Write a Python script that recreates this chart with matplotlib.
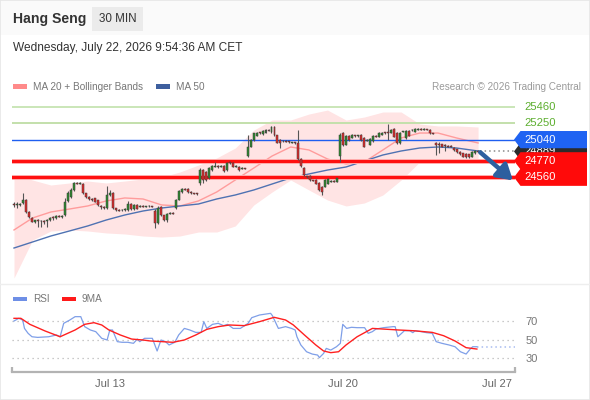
import matplotlib
matplotlib.use("Agg")
import matplotlib.pyplot as plt
from matplotlib.patches import Polygon, Rectangle
from matplotlib.transforms import IdentityTransform
from matplotlib.lines import Line2D

plt.rcParams['font.family'] = ['Liberation Sans', 'DejaVu Sans']

# ---------------- data ----------------
opens = [24210, 24205, 24212, 24232, 24275, 24115, 24045, 23995, 24010, 24005, 24000, 24000,
         24020, 24045, 24040, 24070, 24060, 24080, 24260, 24310, 24398, 24487,
         24480, 24474, 24360, 24310, 24285, 24290, 24270, 24200, 24185, 24168,
         24340, 24360, 24165, 24143, 24140, 24145, 24143, 24220, 24150, 24210,
         24190, 24195, 24190, 24195, 24195, 24130, 23977, 24181, 24079, 24015, 24100,
         24105, 24168, 24270, 24375, 24410, 24410, 24372, 24360, 24350, 24490,
         24652, 24627, 24551, 24652, 24700, 24700, 24690, 24704, 24652, 24745,
         24742, 24691, 24691, 24670, 24675, 24831, 24946, 25035, 25086, 25128,
         25112, 25124, 25160, 25137, 25205, 25099, 25035, 25020, 25025, 25015, 25005,
         25005, 24995, 24790, 24678, 24570, 24576, 24525, 24525, 24490, 24440,
         24440, 24480, 24505, 24510, 24505, 24831, 25124, 24971, 25086, 25061,
         25090, 25086, 25099, 25061, 25030, 24971, 25022, 25086, 25078, 25099,
         25128, 25135, 25128, 25175, 25124, 24997, 25140, 25055, 25155, 25160,
         25140, 25170, 25175, 25170, 25175, 25162, 25120, 25000, 24985, 24984,
         24970, 24960, 24955, 24930, 24915, 24885, 24865, 24857, 24855, 24822,
         24869, 24895]
highs = [24240, 24250, 24235, 24360, 24285, 24125, 24055, 24020, 24030, 24020, 24015, 24030,
         24050, 24060, 24075, 24085, 24075, 24290, 24380, 24420, 24500, 24500,
         24495, 24485, 24365, 24315, 24295, 24300, 24275, 24210, 24190, 24449,
         24395, 24370, 24170, 24155, 24160, 24165, 24260, 24230, 24225, 24220,
         24205, 24205, 24200, 24205, 24200, 24150, 24200, 24190, 24085, 24100, 24115,
         24115, 24280, 24400, 24425, 24420, 24420, 24380, 24365, 24355, 24680,
         24665, 24640, 24690, 24715, 24760, 24710, 24710, 24715, 24760, 24755,
         24750, 24710, 24700, 24685, 24680, 25100, 25050, 25130, 25140, 25135,
         25160, 25170, 25170, 25215, 25215, 25105, 25045, 25035, 25030, 25020, 25015,
         25015, 25162, 24800, 24690, 24580, 24585, 24530, 24535, 24495, 24450,
         24535, 24545, 24520, 24520, 24555, 25124, 25135, 25095, 25095, 25110,
         25100, 25100, 25110, 25070, 25045, 25060, 25095, 25095, 25135, 25140,
         25135, 25239, 25175, 25185, 25135, 25135, 25155, 25165, 25165, 25175,
         25185, 25185, 25185, 25185, 25180, 25170, 25125, 25010, 25015, 24990,
         24980, 24970, 24965, 24940, 24925, 24895, 24875, 24865, 24860, 24895,
         24910, 24905]
lows = [24180, 24170, 24190, 24220, 24100, 24040, 23985, 23980, 23930, 23920, 23960, 23930,
        24000, 24020, 24030, 24050, 24045, 24060, 24250, 24300, 24390, 24470,
        24470, 24350, 24300, 24275, 24260, 24240, 24200, 24160, 24160, 24160,
        24320, 24160, 24130, 24125, 24130, 24135, 24130, 24140, 24145, 24150,
        24180, 24180, 24185, 24185, 24185, 23913, 23970, 24070, 24005, 23995, 24095,
        24095, 24160, 24265, 24365, 24395, 24365, 24350, 24345, 24340, 24460,
        24490, 24510, 24540, 24645, 24690, 24680, 24685, 24630, 24640, 24730,
        24685, 24685, 24645, 24660, 24660, 24820, 24940, 25020, 25080, 25115,
        25105, 25120, 25150, 25130, 25090, 24995, 24930, 25010, 25005, 24995, 24995,
        24990, 24780, 24690, 24580, 24550, 24515, 24510, 24470, 24390, 24334,
        24430, 24475, 24495, 24495, 24500, 24760, 24960, 24965, 25025, 25055,
        25078, 25078, 25025, 24940, 25020, 24965, 25015, 25070, 25070, 25095,
        25115, 25035, 25120, 25070, 24985, 24990, 25135, 25050, 25080, 25150,
        25135, 25160, 25160, 25165, 25160, 25110, 25110, 24844, 24865, 24940,
        24890, 24945, 24940, 24900, 24875, 24850, 24815, 24805, 24805, 24815,
        24860, 24880]
closes = [24205, 24215, 24218, 24275, 24115, 24050, 23995, 24010, 24005, 24000, 23995, 24020,
          24045, 24040, 24070, 24060, 24065, 24240, 24355, 24398, 24487, 24480,
          24485, 24360, 24310, 24285, 24270, 24245, 24207, 24185, 24170, 24334,
          24355, 24168, 24143, 24140, 24145, 24155, 24220, 24150, 24210, 24160,
          24195, 24190, 24195, 24192, 24190, 23975, 24168, 24079, 24015, 24092, 24105,
          24100, 24270, 24390, 24410, 24405, 24372, 24360, 24355, 24347, 24652,
          24525, 24525, 24678, 24704, 24705, 24690, 24700, 24640, 24745, 24740,
          24691, 24700, 24652, 24675, 24670, 24950, 25035, 25124, 25128, 25124,
          25150, 25162, 25155, 25205, 25099, 25000, 24997, 25025, 25015, 25005, 25008,
          25000, 24790, 24704, 24589, 24565, 24525, 24520, 24480, 24398, 24375,
          24525, 24535, 24510, 24505, 24547, 25099, 24971, 25086, 25035, 25099,
          25086, 25090, 25035, 24950, 25035, 25048, 25086, 25080, 25124, 25128,
          25125, 25130, 25162, 25078, 24993, 25124, 25145, 25155, 25086, 25165,
          25175, 25175, 25170, 25175, 25170, 25120, 25115, 24971, 24980, 24950,
          24965, 24955, 24950, 24908, 24885, 24857, 24822, 24815, 24818, 24885,
          24900, 24889]

ma_idx = [0, 6.2, 12.3, 18.5, 24.6, 30.8, 37.0, 43.1, 49.3, 55.4, 61.6, 67.7, 73.9,
          80.1, 86.2, 92.4, 98.5, 104.7, 110.9, 117.0, 123.2, 129.3, 135.5, 141.6,
          147.8, 155.0]
ma20 = [23888, 24041, 24117, 24155, 24194, 24258, 24296, 24283, 24207, 24194,
        24258, 24372, 24525, 24678, 24831, 24946, 24908, 24793, 24729, 24755,
        24908, 25061, 25124, 25124, 25061, 24997]
bb_upper = [24589, 24525, 24461, 24487, 24512, 24487, 24512, 24538, 24563, 24627,
            24716, 24806, 24933, 25162, 25290, 25290, 25366, 25417, 25290, 25328,
            25392, 25392, 25239, 25214, 25214, 25201]
bb_lower = [23276, 23760, 23875, 23888, 23875, 23850, 23837, 23811, 23798, 23811,
            23862, 23862, 23939, 24207, 24372, 24525, 24398, 24270, 24194, 24232,
            24334, 24525, 24755, 24780, 24780, 24780]
ma50 = [23658, 23735, 23811, 23875, 23939, 24015, 24079, 24130, 24168, 24194,
        24219, 24283, 24334, 24398, 24474, 24551, 24602, 24652, 24691, 24767,
        24844, 24895, 24933, 24946, 24933, 24895]

rsi_idx = [0, 1.6, 2.9, 3.5, 4.7, 6.0, 7.9, 11.6, 14.2, 15.4, 16.6, 18.6, 20.4,
           22.3, 23.6, 25.5, 27.3, 29.3, 31.1, 32.0, 32.9, 34.5, 36.1, 38.0, 39.9,
           41.2, 42.0, 43.6, 46.2, 47.8, 49.1, 50.6, 51.8, 53.7, 55.0, 56.9, 58.7,
           60.7, 62.5, 63.4, 64.4, 66.3, 68.2, 70.0, 71.3, 73.2, 75.6, 78.2, 79.4,
           82.0, 85.7, 86.3, 88.3, 90.7, 92.7, 93.9, 94.5, 95.8, 97.7, 99.6, 101.4,
           102.0, 103.4, 104.3, 105.8, 107.7, 109.0, 109.8, 111.1, 112.7, 114.6,
           117.1, 118.3, 119.7, 120.9, 123.4, 126.6, 127.3, 128.2, 130.4, 132.2,
           133.2, 134.0, 136.0, 137.8, 139.7, 141.0, 142.9, 145.3, 147.3, 149.1,
           151.0, 152.3, 153.2, 154.6]
rsi_val = [70, 72.9, 71, 62, 56.7, 53, 52.3, 53, 54.9, 53, 67.5, 71, 74.7,
           74.7, 63.9, 60.3, 58.5, 51.3, 49.5, 60.3, 60.3, 47.7, 47, 47, 45.9,
           50.5, 47.7, 51.3, 51.3, 37.6, 49.5, 47.7, 44.1, 47, 54.9, 62, 60.3,
           57.7, 57.7, 69.3, 62, 66.4, 67.5, 65, 66.4, 62, 62, 67.5, 73.6,
           76.5, 78.3, 75.8, 62, 63.9, 62, 60.3, 53, 44.1, 36.8, 34.3, 33.2,
           30.4, 35, 40.4, 38.6, 42.2, 45.9, 66.4, 62, 63.2, 62.8,
           62.8, 56.7, 58.5, 61.3, 62.8, 63.9, 63.9, 53, 59.5, 59.5,
           57.4, 59.5, 58.5, 57.4, 56.7, 47.7, 45.9, 44.1, 42.2, 36.8,
           34.3, 39.4, 42.2, 42.2]
rsi_ma_idx = [0, 2.3, 5.3, 10.4, 15.4, 20.4, 23.6, 26.7, 29.3, 31.7, 35.5, 39.3,
              43.0, 45.6, 49.4, 53.1, 56.9, 60.7, 64.4, 68.2, 72.0, 76.9, 82.0,
              86.9, 90.7, 93.3, 97.0, 100.8, 103.4, 105.8, 108.4, 110.9, 114.6,
              119.7, 123.4, 128.4, 133.4, 139.7, 143.5, 147.3, 151.0, 154.6]
rsi_ma_val = [72.9, 72.9, 66.4, 59.2, 53, 60.3, 66.4, 68.2, 65.7, 60.3, 54.9, 50.5,
              49.5, 48.4, 47.7, 47, 49.5, 54.9, 61, 63.9, 65.7, 65, 69.3,
              74, 71.1, 65.7, 54.9, 44.1, 37.6, 35.8, 36.8, 44.1, 53,
              62, 61.3, 60.3, 59.5, 57.7, 54.1, 48.4, 41.2, 39.7]

levels = [25460, 25250, 25040, 24770, 24560]
level_labels = ['25460', '25250', '25040', '24770', '24560']
last_price = 24889
xtick_pos = [32.1, 109.9, 161.3]
xtick_labels = ['Jul 13', 'Jul 20', 'Jul 27']

# ---------------- figure ----------------
W, H = 590, 400
XMIN, XMAX = -0.67, 167.33
fig = plt.figure(figsize=(W / 100, H / 100), dpi=100)
fig.patch.set_facecolor('white')


def fx(x):
    return x / W


def fy(y):
    return 1 - y / H


# header
fig.add_artist(Rectangle((0, fy(35)), 1, 35 / H, transform=fig.transFigure,
                         fc='#fafafa', ec='none', zorder=0))
fig.add_artist(Rectangle((fx(92), fy(31)), 51 / W, 24 / H, transform=fig.transFigure,
                         fc='#ebebeb', ec='none', zorder=1))
fig.text(fx(13), fy(19), 'Hang Seng', fontsize=10.1, fontweight='bold',
         color='#333333', va='center', ha='left')
fig.text(fx(117.5), fy(19), '30 MIN', fontsize=8.4, color='#333333',
         va='center', ha='center', zorder=2)
fig.text(fx(13), fy(48), 'Wednesday, July 22, 2026 9:54:36 AM CET', fontsize=8.6,
         color='#333333', va='center', ha='left')

# legend row
fig.add_artist(Rectangle((fx(13), fy(89)), 14 / W, 5 / H, transform=fig.transFigure,
                         fc='#ff8a8a', ec='none'))
fig.text(fx(33), fy(86.5), 'MA 20 + Bollinger Bands', fontsize=7.2, color='#777777',
         va='center', ha='left')
fig.add_artist(Rectangle((fx(156), fy(89)), 14 / W, 5 / H, transform=fig.transFigure,
                         fc='#3e5f9e', ec='none'))
fig.text(fx(176), fy(86.5), 'MA 50', fontsize=7.2, color='#777777',
         va='center', ha='left')
fig.text(fx(581), fy(86.5), 'Research \u00a9 2026 Trading Central', fontsize=7.2,
         color='#9a9a9a', va='center', ha='right')

# ---------------- price panel ----------------
ax = fig.add_axes([fx(12), fy(283), (515 - 12) / W, (283 - 92) / H])
ax.set_xlim(XMIN, XMAX)
ax.set_ylim(23212, 25647)
ax.axis('off')

ax.fill_between(ma_idx, bb_lower, bb_upper, color='#ffe4e4', lw=0, zorder=1)
ax.plot(ma_idx, ma20, color='#ff9c9c', lw=1.0, zorder=2)
ax.plot(ma_idx, ma50, color='#4f72b2', lw=1.0, zorder=2)

level_styles = [
    dict(color='#bcdfa4', lw=1.1),
    dict(color='#c3e0ab', lw=1.4),
    dict(color='#1f5ff0', lw=1.0),
    dict(color='#ff1010', lw=2.2),
    dict(color='#ff1010', lw=2.2),
]
for i, (lvl, st) in enumerate(zip(levels, level_styles)):
    if i >= 3:
        ax.axhline(lvl, color='#ffb0b0', lw=3.6, zorder=3)
    ax.axhline(lvl, zorder=3, **st)

n = len(closes)
idx = list(range(n))
ax.vlines(idx, lows, highs, color='#555555', lw=0.8, zorder=4)
bottoms, heights, colors = [], [], []
for o, c in zip(opens, closes):
    lo, hi = min(o, c), max(o, c)
    h = max(hi - lo, 12)
    bottoms.append((lo + hi) / 2 - h / 2)
    heights.append(h)
    colors.append('#2f8a2f' if c >= o else '#e02a2a')
ax.bar(idx, heights, bottom=bottoms, width=0.66, color=colors,
       edgecolor='#3a3a3a', linewidth=0.35, zorder=5)

# last price dotted extension
ax.plot([n - 1 + 0.6, XMAX], [last_price, last_price], color='#8a8a8a', lw=1.1,
        ls=(0, (1, 2)), zorder=3, clip_on=False)

# forecast arrow toward the second support
ax.annotate('', xy=(XMAX - 0.7, levels[4] - 40), xytext=(n - 1 + 0.7, last_price - 10),
            arrowprops=dict(arrowstyle='-|>,head_length=0.9,head_width=0.55',
                            color='#2d5f9f', lw=3.2, shrinkA=0, shrinkB=0),
            annotation_clip=False, zorder=6)


def level_y(v):
    return ax.transData.transform((0, v))[1]


for i in range(2):
    fig.text(fx(524), level_y(levels[i]) / H, level_labels[i], fontsize=8.1,
             color='#5cae2e', va='center', ha='left')


def tag(v, text, fc, z):
    yd = level_y(v)
    hh = 8.6
    pts = [(514, yd), (520.5, yd + hh), (587, yd + hh), (587, yd - hh), (520.5, yd - hh)]
    fig.add_artist(Polygon(pts, closed=True, fc=fc, ec='none',
                           transform=IdentityTransform(), zorder=z))
    fig.text(fx(524), yd / H, text, fontsize=8.1, color='white', va='center',
             ha='left', zorder=z + 0.5)


tag(last_price, str(last_price), '#2b2b2b', 5)
tag(levels[2], level_labels[2], '#1f63f2', 6)
tag(levels[3], level_labels[3], '#ff0a0a', 6)
tag(levels[4], level_labels[4], '#ff0a0a', 7)

# separator
fig.add_artist(Line2D([0, 1], [fy(283.5), fy(283.5)], transform=fig.transFigure,
                      color='#eeeeee', lw=1))

# ---------------- RSI panel ----------------
fig.add_artist(Rectangle((fx(13), fy(301)), 14 / W, 4 / H, transform=fig.transFigure,
                         fc='#6e8fe6', ec='none'))
fig.text(fx(33), fy(299), 'RSI', fontsize=7.2, color='#777777', va='center', ha='left')
fig.add_artist(Rectangle((fx(62), fy(301)), 14 / W, 4 / H, transform=fig.transFigure,
                         fc='#ff1a1a', ec='none'))
fig.text(fx(82), fy(299), '9MA', fontsize=7.2, color='#777777', va='center', ha='left')

ax2 = fig.add_axes([fx(12), fy(372), (515 - 12) / W, (372 - 305) / H])
ax2.set_xlim(XMIN, XMAX)
ax2.set_ylim(14.9, 87.3)
ax2.set_facecolor('none')
for s in ['top', 'left', 'right']:
    ax2.spines[s].set_visible(False)
ax2.spines['bottom'].set_color('#b3b3b3')
ax2.spines['bottom'].set_linewidth(1.6)
for v in [30, 50, 70]:
    ax2.axhline(v, color='#b8b8b8', lw=0.9, ls=(0, (1, 3)), zorder=1)
ax2.plot(rsi_idx, rsi_val, color='#7f9fe8', lw=0.9, zorder=3)
ax2.plot(rsi_ma_idx, rsi_ma_val, color='#ff2020', lw=1.0, zorder=4)
ax2.plot([rsi_idx[-1], XMAX], [rsi_val[-1], rsi_val[-1]], color='#a8bcf0', lw=1.1,
         ls=(0, (1, 2)), zorder=2)
for xa in [0, 1]:
    ax2.plot([xa, xa], [0, 0.08], transform=ax2.transAxes, color='#b3b3b3', lw=1.6,
             clip_on=False, solid_capstyle='butt')
ax2.set_xticks(xtick_pos)
ax2.set_xticklabels(xtick_labels)
ax2.tick_params(axis='x', length=0, pad=5, labelsize=8, labelcolor='#666666')
ax2.yaxis.tick_right()
ax2.set_yticks([30, 50, 70])
ax2.tick_params(axis='y', length=0, pad=7.5, labelsize=8, labelcolor='#777777')

# outer border
fig.add_artist(Rectangle((0.0008, 0.0012), 0.9984, 0.9976, transform=fig.transFigure,
                         fc='none', ec='#e6e6e6', lw=1.2))

fig.savefig('out.png', dpi=100, facecolor='white')
